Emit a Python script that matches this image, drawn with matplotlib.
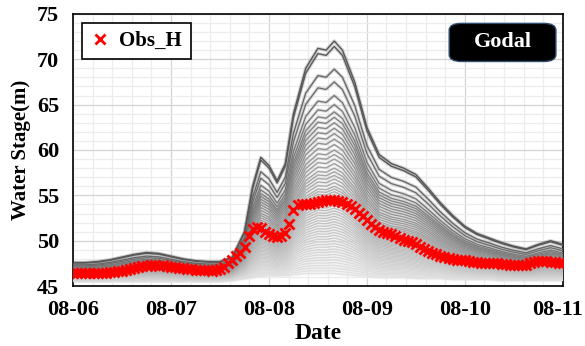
import matplotlib
matplotlib.use('Agg')
import matplotlib.pyplot as plt
import matplotlib.transforms as mtransforms
import numpy as np
from matplotlib.patches import FancyBboxPatch
from matplotlib.ticker import MultipleLocator

plt.rcParams['font.family'] = 'Liberation Serif'
plt.rcParams['font.weight'] = 'bold'

# observed stage, hourly from 08-06 00:00 to 08-11 00:00
obsDay1 = [46.5, 46.4, 46.5, 46.4, 46.5, 46.5, 46.4, 46.5, 46.5, 46.6, 46.6, 46.7,
           46.7, 46.8, 46.9, 47.0, 47.1, 47.2, 47.2, 47.3, 47.3, 47.2, 47.3, 47.2]
obsDay2 = [47.1, 47.1, 47.0, 47.0, 46.9, 46.9, 46.8, 46.8, 46.8, 46.8, 46.7, 46.8,
           46.9, 47.1, 47.5, 47.9, 48.3, 48.6, 49.3, 50.5, 51.3, 51.5, 51.4, 51.0]
obsDay3 = [50.7, 50.5, 50.4, 50.5, 50.9, 51.8, 53.4, 53.9, 54.0, 54.1, 54.1, 54.2,
           54.3, 54.4, 54.5, 54.5, 54.5, 54.4, 54.3, 54.0, 53.8, 53.5, 53.1, 52.7]
obsDay4 = [52.3, 51.9, 51.5, 51.2, 51.0, 50.8, 50.7, 50.5, 50.3, 50.1, 50.0, 49.9,
           49.6, 49.3, 49.1, 48.9, 48.6, 48.5, 48.3, 48.2, 48.1, 48.0, 47.9, 47.9]
obsDay5 = [47.9, 47.8, 47.7, 47.7, 47.6, 47.6, 47.5, 47.5, 47.5, 47.4, 47.4, 47.3,
           47.3, 47.3, 47.3, 47.3, 47.5, 47.7, 47.8, 47.8, 47.8, 47.7, 47.7, 47.6, 47.6]
obsH = obsDay1 + obsDay2 + obsDay3 + obsDay4 + obsDay5
obsHours = list(range(len(obsH)))

# ensemble envelope (highest and lowest member)
ensHours = [0, 3, 6, 9, 12, 15, 18, 21, 24, 27, 30, 33, 36, 39, 42, 44, 46, 48, 50, 52,
            54, 57, 60, 62, 64, 66, 69, 72, 75, 78, 81, 84, 87, 90, 93, 96, 99, 102,
            105, 108, 111, 114, 117, 120]
ensTop = [47.6, 47.6, 47.7, 47.9, 48.2, 48.5, 48.7, 48.6, 48.3, 48.0, 47.8, 47.7,
          47.7, 48.2, 51.0, 56.0, 59.2, 58.3, 56.6, 58.5, 64.0, 69.0, 71.2, 71.0,
          72.0, 71.0, 67.5, 62.5, 59.5, 58.5, 58.0, 57.3, 55.8, 54.2, 52.8, 51.6,
          50.8, 50.3, 49.8, 49.4, 49.1, 49.6, 50.0, 49.6]
ensBase = [45.5, 45.5, 45.5, 45.5, 45.5, 45.5, 45.5, 45.5, 45.5, 45.5, 45.5, 45.5,
           45.5, 45.6, 45.8, 45.9, 46.0, 46.1, 46.1, 46.1, 46.2, 46.3, 46.3, 46.3,
           46.3, 46.2, 46.1, 46.0, 45.9, 45.9, 45.9, 45.8, 45.8, 45.8, 45.7, 45.7,
           45.7, 45.7, 45.6, 45.6, 45.6, 45.6, 45.6, 45.6]
# peak stage of each ensemble member (08-08 16:00)
memberPeaks = [72.0, 71.4, 68.9, 67.5, 66.0, 65.0, 64.2, 63.6, 63.0, 62.4, 61.8,
               61.2, 60.6, 60.0, 59.5, 59.0, 58.5, 58.0, 57.6, 57.2, 56.8, 56.4,
               56.0, 55.7, 55.4, 55.1, 54.8, 54.5, 54.2, 53.9, 53.6, 53.3, 53.0,
               52.7, 52.4, 52.1, 51.8, 51.5, 51.2, 50.9, 50.6, 50.3, 50.0, 49.7,
               49.4, 49.1, 48.8, 48.5, 48.2, 47.9, 47.6, 47.3, 47.0, 46.7, 46.4]

dayLabels = ['08-06', '08-07', '08-08', '08-09', '08-10', '08-11']
dayTicks = [0, 24, 48, 72, 96, 120]

fig = plt.figure(figsize=(5.85, 3.46), dpi=100)
ax = fig.add_axes([0.125, 0.173, 0.837, 0.787])

top = np.array(ensTop)
base = np.array(ensBase)
iPeak = ensHours.index(64)
for peak in sorted(memberPeaks):
    frac = (peak - base[iPeak]) / (top[iPeak] - base[iPeak])
    frac = min(max(frac, 0.0), 1.0)
    member = base + frac * (top - base)
    g = 0.34 + 0.55 * (1 - frac)
    halo = min(g + 0.2, 0.92)
    ax.plot(ensHours, member, color=str(halo), lw=2.6, alpha=0.35, zorder=2,
            solid_joinstyle='round')
    ax.plot(ensHours, member, color=str(g), lw=1.0, zorder=3, solid_joinstyle='round')

ax.plot(obsHours, obsH, 'x', color='red', ms=6.5, mew=2, zorder=5, label='Obs_H')

ax.set_xlim(0, 120)
ax.set_ylim(45, 75)
ax.set_xticks(dayTicks)
ax.set_xticklabels(dayLabels)
ax.xaxis.set_minor_locator(MultipleLocator(4.8))
ax.yaxis.set_major_locator(MultipleLocator(5))
ax.yaxis.set_minor_locator(MultipleLocator(1))
ax.grid(which='major', color='#d4d4d4', lw=0.9, zorder=0)
ax.grid(which='minor', color='#ececec', lw=0.9, zorder=0)
ax.set_axisbelow(True)
ax.tick_params(which='both', length=0, labelsize=16)
ax.tick_params(axis='x', pad=10)
ax.tick_params(axis='y', pad=10)
for sp in ax.spines.values():
    sp.set_color('black')
    sp.set_linewidth(1.2)

# keep the last date label inside the figure
lastLabel = ax.get_xticklabels()[-1]
lastLabel.set_transform(lastLabel.get_transform() +
                        mtransforms.ScaledTranslation(-5 / 100, 0, fig.dpi_scale_trans))

ax.set_xlabel('Date', fontsize=17, fontweight='bold', labelpad=2)
ax.set_ylabel('Water Stage(m)', fontsize=15, fontweight='bold', labelpad=4)

leg = ax.legend(loc='upper left', bbox_to_anchor=(0.018, 0.968), borderaxespad=0,
                fancybox=False, edgecolor='black', framealpha=1, handlelength=0.9,
                handletextpad=0.5, borderpad=0.4, prop={'size': 15, 'weight': 'bold'})
leg.get_frame().set_linewidth(1.2)

box = FancyBboxPatch((0.768, 0.825), 0.218, 0.14, boxstyle='round,pad=0,rounding_size=0.025',
                     transform=ax.transAxes, facecolor='black', edgecolor='#2f4f6f',
                     lw=1.0, zorder=6)
ax.add_patch(box)
ax.text(0.877, 0.895, 'Godal', transform=ax.transAxes, color='white', fontsize=16,
        fontweight='bold', ha='center', va='center', zorder=7)

fig.savefig('out.png', dpi=100)
